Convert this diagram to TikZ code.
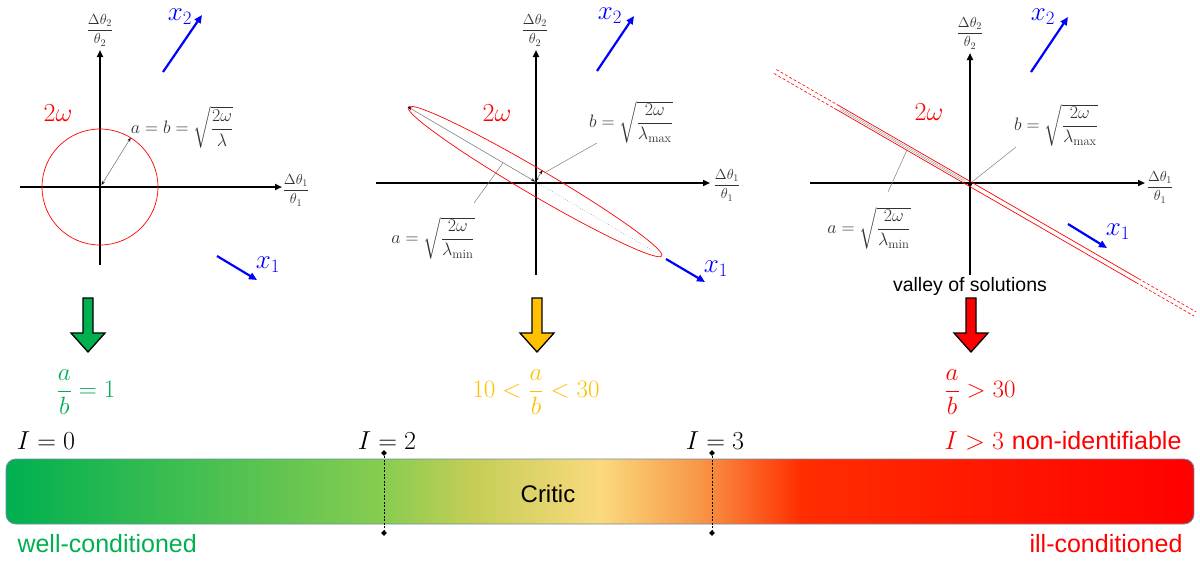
\RequirePackage{fix-cm}
\documentclass[tikz,border=0pt]{standalone}
\usepackage{amsmath}
\usepackage{fontspec}
\setsansfont{Liberation Sans}
\usetikzlibrary{arrows.meta,shapes.geometric}
\definecolor{cgreen}{RGB}{0,176,80}
\definecolor{cyellow}{RGB}{255,192,0}
\definecolor{cred}{RGB}{255,0,0}
\definecolor{cblue}{RGB}{0,0,255}
\definecolor{cborder}{RGB}{110,140,175}
\definecolor{ctext}{RGB}{50,50,50}
\definecolor{sa}{RGB}{0,176,80}
\definecolor{sb}{RGB}{135,205,80}
\definecolor{sc}{RGB}{195,205,85}
\definecolor{sd}{RGB}{250,218,125}
\definecolor{se}{RGB}{247,150,70}
\definecolor{sf}{RGB}{255,45,0}
\definecolor{sg}{RGB}{255,0,0}
\pgfdeclarehorizontalshading{barshade}{100bp}{color(0bp)=(sa); color(25bp)=(sa); color(40.9bp)=(sb); color(44.5bp)=(sc); color(50bp)=(sd); color(54.2bp)=(se); color(58.5bp)=(sf); color(75bp)=(sg); color(100bp)=(sg)}
\newcommand\fsz[1]{\fontsize{#1}{#1}\selectfont}
\tikzset{
  axisline/.style={line width=2pt, -{Triangle[length=7pt,width=6pt]}},
  bluearr/.style={cblue, line width=2.2pt, -{Triangle[length=8pt,width=7pt]}},
  leader/.style={gray, line width=0.5pt},
  radarr/.style={gray, line width=0.6pt, {Stealth[length=4pt,width=3pt,black]}-{Stealth[length=4pt,width=3pt,black]}},
  axlab/.style={ctext, font=\fsz{14.5}},
  mathlab/.style={ctext, font=\fsz{18}},
  omlab/.style={cred, font=\fsz{26}},
  xlab/.style={cblue, font=\fsz{27}},
  ilab/.style={font=\fsz{26}},
  sflab/.style={font=\sffamily\fsz{25}},
  ratlab/.style={font=\fsz{25}},
  marker/.style={diamond, fill=black, inner sep=0pt, minimum size=6pt},
  blockarr/.style={draw=black, line width=1.3pt, line join=miter}
}
\begin{document}
\begin{tikzpicture}[x=1pt,y=-1pt]
\useasboundingbox (0,0) rectangle (1200,563);
% ---------- Panel 1 ----------
\draw[axisline] (20,187) -- (282,187);
\draw[axisline] (100,265) -- (100,50);
\node[axlab] (p1ty) at (100,30) {$\dfrac{\Delta\theta_2}{\theta_2}$};
\node[axlab] (p1tx) at (296,190) {$\dfrac{\Delta\theta_1}{\theta_1}$};
\draw[cred, line width=0.7pt] (100,187) circle [radius=58];
\draw[radarr] (101.5,185) -- (130.7,137.8);
\node[mathlab] (p1a) at (182,127) {$a=b=\sqrt{\dfrac{2\omega}{\lambda}}$};
\node[omlab] (p1om) at (58,113) {$2\omega$};
\coordinate (p1x2s) at (163,72); \coordinate (p1x2e) at (202,15);
\draw[bluearr] (p1x2s) -- (p1x2e);
\node[xlab] (p1x2) at (180,17) {$x_2$};
\coordinate (p1x1s) at (217,256); \coordinate (p1x1e) at (257,280);
\draw[bluearr] (p1x1s) -- (p1x1e);
\node[xlab] (p1x1) at (268,265) {$x_1$};
% ---------- Panel 2 ----------
\draw[axisline] (376,183) -- (710,183);
\draw[axisline] (536,275) -- (536,50);
\node[axlab] (p2ty) at (535,30) {$\dfrac{\Delta\theta_2}{\theta_2}$};
\node[axlab] (p2tx) at (727,185) {$\dfrac{\Delta\theta_1}{\theta_1}$};
\draw[cred, line width=0.7pt, rotate around={-30.4:(535,181.5)}] (535,181.5) ellipse [x radius=147, y radius=13];
\draw[radarr] (535,181.5) -- (408,107);
\draw[gray, line width=0.5pt, dotted] (535,181.5) -- (662,256);
\draw[radarr] (535.5,181) -- (542.6,170.3);
\draw[leader] (597,143) -- (544,173);
\draw[leader] (474,203) -- (503,163);
\node[mathlab] (p2b) at (631,122) {$b=\sqrt{\dfrac{2\omega}{\lambda_{\max}}}$};
\node[mathlab] (p2a) at (433,238) {$a=\sqrt{\dfrac{2\omega}{\lambda_{\min}}}$};
\node[omlab] (p2om) at (497,113) {$2\omega$};
\draw[bluearr] (597,71) -- (634,16);
\node[xlab] (p2x2) at (610,16) {$x_2$};
\draw[bluearr] (666,259) -- (705,282);
\node[xlab] (p2x1) at (716,269) {$x_1$};
% ---------- Panel 3 ----------
\draw[axisline] (810,183) -- (1145,183);
\draw[axisline] (970,275) -- (970,53);
\node[axlab] (p3ty) at (970,33) {$\dfrac{\Delta\theta_2}{\theta_2}$};
\node[axlab] (p3tx) at (1160,187) {$\dfrac{\Delta\theta_1}{\theta_1}$};
\begin{scope}[shift={(970,184)}, rotate=-30]
  \draw[cred, line width=0.7pt] (-155,-2.3) -- (193,-2.3);
  \draw[cred, line width=0.7pt] (-155,2.3) -- (193,2.3);
  \draw[cred, line width=0.6pt, dashed, dash pattern=on 3pt off 2pt] (-225,-2.3) -- (-155,-2.3);
  \draw[cred, line width=0.6pt, dashed, dash pattern=on 3pt off 2pt] (-225,2.3) -- (-155,2.3);
  \draw[cred, line width=0.6pt, dashed, dash pattern=on 3pt off 2pt] (193,-2.3) -- (260,-2.3);
  \draw[cred, line width=0.6pt, dashed, dash pattern=on 3pt off 2pt] (193,2.3) -- (260,2.3);
  \draw[gray, line width=0.4pt, double=white, double distance=0.8pt] (-150,0) -- (-6,0);
  \fill[black] (0,0) circle [radius=2.2];
\end{scope}
\draw[leader] (888,192) -- (907,150);
\draw[leader] (1016,147) -- (972,182);
\node[mathlab] (p3b) at (1056,125) {$b=\sqrt{\dfrac{2\omega}{\lambda_{\max}}}$};
\node[mathlab] (p3a) at (869,228) {$a=\sqrt{\dfrac{2\omega}{\lambda_{\min}}}$};
\node[omlab] (p3om) at (929,112) {$2\omega$};
\draw[bluearr] (1031,72) -- (1068,17);
\node[xlab] (p3x2) at (1043,17) {$x_2$};
\draw[bluearr] (1068,224) -- (1107,248);
\node[xlab] (p3x1) at (1118,232) {$x_1$};
\node[sflab, font=\sffamily\fsz{19.5}] (valley) at (970,286) {valley of solutions};
% ---------- Block arrows ----------
\foreach \cx/\col in {88/cgreen, 537/cyellow, 971/cred}{
  \filldraw[blockarr, fill=\col] (\cx-5,298) -- (\cx+5,298) -- (\cx+5,333) -- (\cx+17,333) -- (\cx,352) -- (\cx-17,333) -- (\cx-5,333) -- cycle;
}
% ---------- Ratios ----------
\node[ratlab, text=cgreen] (r1) at (86,392) {$\dfrac{a}{b}=1$};
\node[ratlab, text=cyellow] (r2) at (536,392) {$10<\dfrac{a}{b}<30$};
\node[ratlab, text=cred] (r3) at (980,392) {$\dfrac{a}{b}>30$};
% ---------- Bar ----------
\shade[shading=barshade, rounded corners=10pt] (6,459) rectangle (1194,524);
\draw[cborder, line width=0.9pt, rounded corners=10pt] (6,459) rectangle (1194,524);
\node[ilab] (i0) at (46,441) {$I=0$};
\node[ilab] (i2) at (387,441) {$I=2$};
\node[ilab] (i3) at (715,441) {$I=3$};
\node[ilab, text=cred, anchor=east] (i4) at (1185,441) {$I>3$ \sffamily\fsz{25}non-identifiable};
\node[marker] (m2t) at (384,453) {};
\node[marker] (m2b) at (384,533) {};
\node[marker] (m3t) at (712,453) {};
\node[marker] (m3b) at (712,533) {};
\draw[line width=0.6pt, dashed, dash pattern=on 2pt off 1.5pt] (m2t) -- (m2b);
\draw[line width=0.6pt, dashed, dash pattern=on 2pt off 1.5pt] (m3t) -- (m3b);
\node[sflab, font=\sffamily\fsz{24}] (critic) at (548,494) {Critic};
\node[sflab, text=cgreen, anchor=west] (well) at (14,544) {well-conditioned};
\node[sflab, text=cred, anchor=east] (ill) at (1186,544) {ill-conditioned};
\end{tikzpicture}
\end{document}
